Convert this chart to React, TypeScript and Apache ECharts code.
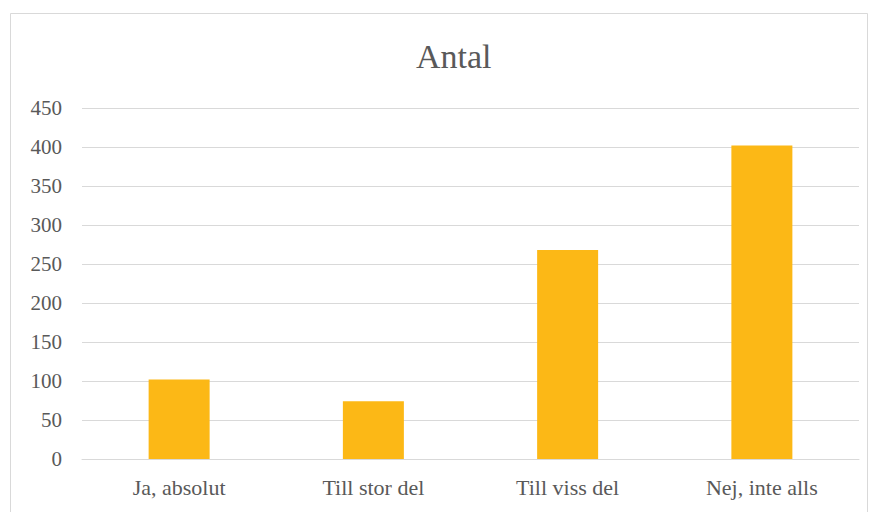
import React, { useEffect, useRef } from "react";
import * as echarts from "echarts";

const categories = ["Ja, absolut", "Till stor del", "Till viss del", "Nej, inte alls"];
const values = [102, 74, 268, 402];
const titleText = "Antal";

export default function App() {
  const ref = useRef<HTMLDivElement>(null);
  useEffect(() => {
    if (!ref.current) return;
    const chart = echarts.init(ref.current, null, { renderer: "svg" });
    const font = "Liberation Serif";
    chart.setOption({
      animation: false,
      backgroundColor: "#ffffff",
      textStyle: { fontFamily: font },
      title: {
        text: titleText,
        left: 411,
        top: 34,
        textStyle: { fontFamily: font, fontSize: 34, fontWeight: "normal", color: "#595959" },
      },
      graphic: [
        {
          type: "rect",
          shape: { x: 10.5, y: 13.5, width: 857, height: 520 },
          style: { fill: "none", stroke: "#d9d9d9", lineWidth: 1 },
          silent: true,
        },
      ],
      grid: { left: 82, right: 19, top: 108, bottom: 53, containLabel: false },
      xAxis: {
        type: "category",
        data: categories,
        axisLine: { show: true, lineStyle: { color: "#d9d9d9", width: 1 } },
        axisTick: { show: false },
        axisLabel: { color: "#595959", fontSize: 22, fontFamily: font, margin: 17 },
      },
      yAxis: {
        type: "value",
        min: 0,
        max: 450,
        interval: 50,
        axisLine: { show: false },
        axisTick: { show: false },
        splitLine: { lineStyle: { color: "#d9d9d9", width: 1 } },
        axisLabel: { color: "#595959", fontSize: 21, fontFamily: font, margin: 20 },
      },
      series: [
        {
          type: "bar",
          data: values,
          barWidth: 61,
          itemStyle: { color: "#FCB816" },
        },
      ],
    });
    return () => chart.dispose();
  }, []);
  return (
    <div
      ref={ref}
      style={{ position: "fixed", left: 0, top: 0, width: 878, height: 512 }}
    />
  );
}
